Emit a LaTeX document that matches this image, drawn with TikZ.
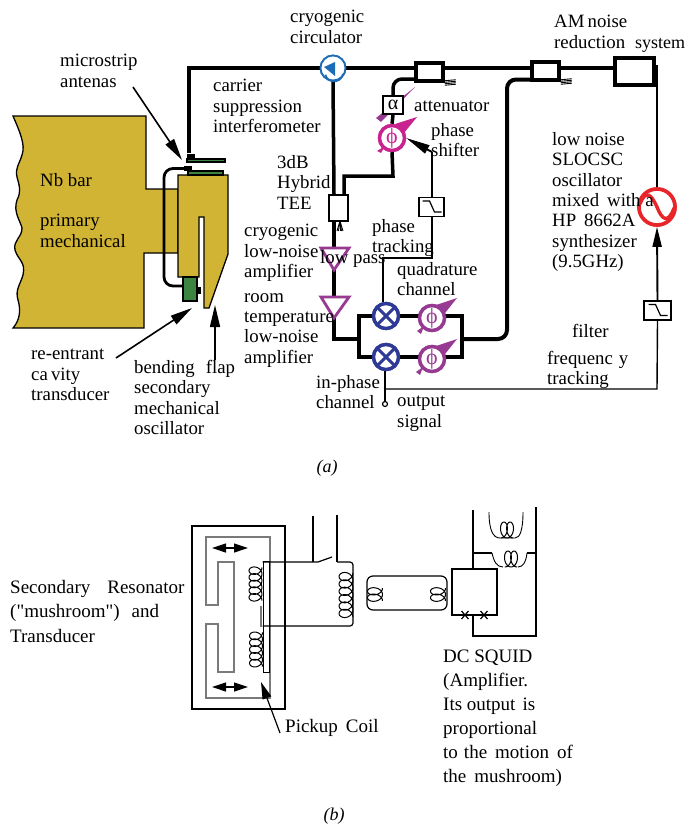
\documentclass[tikz,border=0pt]{standalone}
\usepackage{fontspec}
\setmainfont{Liberation Serif}
\newfontfamily\plainq{Liberation Serif}
\usetikzlibrary{arrows.meta,calc}
\definecolor{gold}{HTML}{D1B433}
\definecolor{grn}{HTML}{3D8440}
\definecolor{mag}{HTML}{C9238F}
\definecolor{purp}{HTML}{973A92}
\definecolor{blu}{HTML}{1E6CB5}
\definecolor{navy}{HTML}{2E3A96}
\definecolor{redc}{HTML}{E8262A}
\definecolor{gry}{HTML}{7A7A7A}
\tikzset{
 x=1pt,y=-1pt,
 lbl/.style={anchor=north west,inner sep=0pt,align=left,font=\fontsize{18.8}{20.4}\selectfont,execute at begin node={\rule{0pt}{13pt}}},
 capt/.style={inner sep=0pt,font=\fontsize{18}{20}\selectfont\itshape},
 thick line/.style={line width=3.5pt,line join=miter},
 thin line/.style={line width=1.9pt},
 blackbox/.style={draw,fill=white,line width=3.5pt,inner sep=0pt},
 goldline/.style={draw=black,fill=gold,line width=1.3pt,line join=miter},
 grnbox/.style={draw=black,fill=grn,line width=1.2pt},
 bigtip/.style={-{Triangle[length=22pt,width=10pt]},line width=1.6pt},
 filterbox/.style={draw,fill=white,line width=1.6pt,inner sep=0pt,minimum width=25pt,minimum height=19pt},
 ampl/.style={draw=purp,fill=white,line width=2.8pt,line join=miter},
 mixer/.style={circle,draw=navy,fill=white,line width=3.4pt,minimum size=25pt,inner sep=0pt},
 phasenode/.style={circle,draw=#1,fill=white,line width=3.4pt,minimum size=25pt,inner sep=0pt,text=#1,font=\fontsize{22}{22}\selectfont},
 attbox/.style={draw,fill=white,line width=2pt,inner sep=0pt,minimum width=20pt,minimum height=18pt,font=\fontsize{20}{20}\selectfont},
 b line/.style={line width=1.2pt},
 g line/.style={draw=gry,line width=1.1pt},
}
% vertical coil: centre x, top y, width, height, turns
\newcommand\vcoil[5]{\draw[line width=1pt,samples=100,domain=0:360*#5,smooth]
  plot ({#1+#3/2*cos(\x)},{#2+#4/(#5+1.6)*(\x/360+.8+.8*sin(\x))});}
% horizontal coil: left x, centre y, width, height, turns
\newcommand\hcoil[5]{\draw[line width=1pt,samples=60,domain=0:360*#5,smooth]
  plot ({#1+#3/(#5+1.6)*(\x/360+.8+.8*sin(\x))},{#2+#4/2*cos(\x)});}
\newcommand\filtersym[1]{\draw[line width=1.2pt] ($(#1)+(-9,-6)$) -- ($(#1)+(-2,-6)$) -- ($(#1)+(3,5)$) -- ($(#1)+(10,5)$);}
\newcommand\fork[1]{\foreach \d in {0,1.5,3,4.5}{\draw[line width=.9pt] ($(#1)+(0,\d-2)$) -- ($(#1)+(11,\d-3)$);}}
\begin{document}
\begin{tikzpicture}
\useasboundingbox (0,0) rectangle (688,827);
% ---- mechanical
\path[goldline] (178,189) -- (146,189) -- (146,116) -- (13,116)
  .. controls (19,130) and (26,145) .. (22,155)
  .. controls (19,165) and (15,168) .. (17,177)
  .. controls (20,188) and (21,192) .. (17,200)
  .. controls (13,212) and (20,220) .. (22,228)
  .. controls (22,238) and (13,240) .. (15,250)
  .. controls (18,260) and (26,262) .. (23,275)
  .. controls (20,285) and (15,290) .. (18,300)
  .. controls (21,310) and (20,320) .. (13,328)
  -- (144,328) -- (144,253) -- (178,253) -- cycle;
\path[goldline] (178,175) -- (228,175) -- (228,254) -- (209,308) -- (204,308) -- (204,217) -- (199,217) -- (199,277) -- (178,277) -- cycle;
\node[grnbox,minimum width=38pt,minimum height=3pt,inner sep=0pt] (ant1) at (206,160.5) {};
\node[grnbox,minimum width=35pt,minimum height=4pt,inner sep=0pt] (ant2) at (205.5,173) {};
\node[grnbox,minimum width=14pt,minimum height=24pt,inner sep=0pt] (cav) at (190,289) {};
\node[fill=black,minimum width=3pt,minimum height=7pt,inner sep=0pt] (cavb) at (199,290) {};
\node[fill=black,minimum width=8pt,minimum height=5pt,inner sep=0pt] (blk1) at (191,156) {};
\node[fill=black,minimum width=8pt,minimum height=5pt,inner sep=0pt] (blk2) at (188,168.5) {};
\draw[line width=2.8pt,rounded corners=9pt] (blk2.west) -- (164,168.5) -- (164,286) -- (cav.west |- 0,286);
% ---- microwave network
\node[circle,draw=blu,fill=white,line width=1.8pt,minimum size=25pt,inner sep=0pt] (circ) at (333,68) {};
\node[blackbox,minimum width=27pt,minimum height=18pt] (cp1) at (429.5,72) {};
\node[blackbox,minimum width=27pt,minimum height=18pt] (cp2) at (545.5,71) {};
\node[blackbox,minimum width=39pt,minimum height=27pt] (am) at (634.5,71.5) {};
\node[attbox] (att) at (393,105) {α};
\node[phasenode=mag] (ph0) at (392,138) {ϕ};
\node[draw,fill=white,line width=1.8pt,inner sep=0pt,minimum width=19pt,minimum height=26pt] (hyb) at (338.5,208) {};
\node[filterbox] (f1) at (431.5,207) {};
\node[filterbox,minimum width=27pt] (f2) at (657.5,310.5) {};
\node[mixer] (m1) at (386,316) {};
\node[mixer] (m2) at (386,357) {};
\node[phasenode=purp] (ph1) at (432,318) {ϕ};
\node[phasenode=purp] (ph2) at (432,359) {ϕ};
\node[circle,draw=redc,fill=white,line width=3.6pt,minimum size=36pt,inner sep=0pt] (osc) at (657,207) {};
\coordinate (tl) at (189,68);
\coordinate (junc) at (359,339);
\coordinate (juncr) at (462,339);
\coordinate (cr1) at (462,316);
\coordinate (cr2) at (462,357);
\begin{scope}[thick line]
 \draw (blk1.north -| 189,0) -- (tl) -- (circ.west);
 \draw (circ.east) -- (cp1.west |- 0,68);
 \draw (cp1.east |- 0,68) -- (cp2.west |- 0,68);
 \draw (cp2.east |- 0,68) -- (am.west |- 0,68);
 \draw[rounded corners=9pt] (cp1.west |- 0,79) -- (393,79) -- (att.north);
 \draw (att.south) -- (ph0.north);
 \draw (ph0.south) -- (393,176) -- (344,176) -- (hyb.north -| 344,0);
 \draw (circ.south) -- (hyb.north -| 334,0);
 \draw (hyb.south -| 334,0) -- (334,339) -- (junc);
 \draw (junc) -- (359,316) -- (m1.west);
 \draw (junc) -- (359,357) -- (m2.west);
 \draw (m1.east) -- (cr1) -- (cr2) -- (m2.east);
 \draw[line width=4pt,rounded corners=9pt] (juncr) -- (507,339) -- (507,79.5) -- (cp2.west |- 0,79.5);
\end{scope}
\draw[line width=2.8pt] (am.east |- 0,66) -- (657,66) -- (osc.north);
\draw[thin line] (m1.north -| 383,0) -- (383,258) -- (432,258) -- (f1.south -| 432,0);
\draw[thin line] (f1.north -| 432,0) -- (432,152);
\draw[-{Triangle[length=24pt,width=9pt]},thin line] (432,152) -- (ph0.east);
\coordinate (outp) at (385,403);
\draw[line width=1.4pt] (m2.south -| 385,0) -- (outp);
\draw[line width=1.4pt] (385,389) -- (657,389) -- (f2.south);
\draw[-{Triangle[length=20pt,width=9pt]},line width=1.9pt] (f2.north) -- (osc.south);
\node[circle,draw,fill=white,line width=1.2pt,minimum size=5pt,inner sep=0pt] (outc) at (385,404) {};
% redraw symbols on top
\node[blackbox,minimum width=27pt,minimum height=18pt] at (cp1) {};
\node[blackbox,minimum width=27pt,minimum height=18pt] at (cp2) {};
\node[blackbox,minimum width=39pt,minimum height=27pt] at (am) {};
\fill[purp] (376,118) -- (415,87) -- (381,122) -- cycle;
\node[attbox] at (att) {α};
\fill[mag] (417,117) -- (395,124) -- (404,133) -- cycle;
\fill[mag] (377,151) -- (385,146) -- (381,153) -- cycle;
\fill[purp] (457,298) -- (436,305) -- (445,313) -- cycle;
\fill[purp] (417,331) -- (424,326) -- (421,334) -- cycle;
\fill[purp] (457,339) -- (436,346) -- (445,354) -- cycle;
\fill[purp] (416,372) -- (423,367) -- (420,375) -- cycle;
\node[phasenode=mag] at (ph0) {ϕ};
\node[phasenode=purp] at (ph1) {ϕ};
\node[phasenode=purp] at (ph2) {ϕ};
\foreach \m in {m1,m2}{
 \node[mixer] at (\m) {};
 \draw[navy,line width=3pt] ($(\m)+(-8,-8)$) -- ($(\m)+(8,8)$);
 \draw[navy,line width=3pt] ($(\m)+(-8,8)$) -- ($(\m)+(8,-8)$);
}
\node[draw,fill=white,line width=1.8pt,inner sep=0pt,minimum width=19pt,minimum height=26pt] at (hyb) {};
\node[filterbox] at (f1) {};
\node[filterbox,minimum width=27pt] at (f2) {};
\filtersym{f1}\filtersym{f2}
\node[circle,draw=blu,fill=white,line width=1.8pt,minimum size=25pt,inner sep=0pt] at (circ) {};
\draw[blu,line width=1.7pt] (343,74) arc (10:165:9 and 9);
\fill[blu] (324,67) -- (335,62) -- (335,76) -- cycle;
\node[circle,draw=redc,fill=white,line width=3.6pt,minimum size=36pt,inner sep=0pt] at (osc) {};
\draw[redc,line width=3.4pt] (640,204) .. controls (646,188) and (652,196) .. (657,207) .. controls (662,220) and (668,224) .. (674,208);
\fork{cp1.south east}
\fork{cp2.south east}
\foreach \d in {-3,-1.5,0,1.5,3}{\draw[line width=.9pt] (340,221) -- (340+\d,231);}
% amplifiers
\draw[ampl] (321,248) -- (349,248) -- (334,270) -- cycle;
\draw[ampl] (321,297) -- (349,297) -- (334,318) -- cycle;
% arrows to the mechanical part
\coordinate (ar1s) at (133,87); \coordinate (ar1e) at (182,160);
\coordinate (ar2s) at (116,358); \coordinate (ar2e) at (192,308);
\coordinate (ar3s) at (215,360); \coordinate (ar3e) at (215,305);
\draw[bigtip] (ar1s) -- (ar1e);
\draw[bigtip] (ar2s) -- (ar2e);
\draw[bigtip] (ar3s) -- (ar3e);
% ---- labels (a)
\node[lbl] (t1) at (290,10) {cryogenic\\circulator};
\node[lbl] (t2) at (60,54) {microstrip\\antenas};
\node[lbl] (t3) at (213,79) {carrier\\suppression\\interferometer};
\node[lbl] (t4) at (40,173) {Nb bar};
\node[lbl] (t5) at (40,214) {primary\\mechanical};
\node[lbl] (t6) at (277,155) {3dB\\Hybrid\\TEE};
\node[lbl] (t7) at (244,224) {cryogenic\\low-noise\\amplifier};
\node[lbl] (t8) at (320,250) {low pass};
\node[lbl] (t9) at (244,293) {room\\temperature\\low-noise\\amplifier};
\node[lbl] (t10) at (31,349) {re-entrant\\ca\,vity\\transducer};
\node[lbl] (t11) at (134,360) {bending\hspace{11pt}flap\\secondary\\mechanical\\oscillator};
\node[lbl] (t12) at (414,98) {attenuator};
\node[lbl] (t13) at (431,123) {phase\\shifter};
\node[lbl] (t14) at (372,219) {phase\\tracking};
\node[lbl] (t15) at (397,262) {quadrature\\channel};
\node[lbl] (t16) at (316,375) {in-phase\\channel};
\node[lbl] (t17) at (397,396) {output\\signal};
\node[lbl] (t18) at (572,324) {filter};
\node[lbl] (t19) at (547,351) {frequenc\hspace{6pt}y\\tracking};
\node[lbl] (t20) at (552,132) {low noise\\SLOCSC\\oscillator\\mixed\hspace{8pt}with a\\HP\hspace{8pt}8662A\\synthesizer\\(9.5GHz)};
\node[lbl] (t21) at (554,15) {AM\,noise\\reduction\hspace{10pt}{\fontsize{18}{20}\selectfont system}};
\node[capt] (capa) at (327,468) {(a)};
% ---- part (b)
\node[draw,line width=1.2pt,minimum width=93pt,minimum height=183pt,inner sep=0pt] (outer) at (238.5,617.5) {};
\draw[g line,line join=miter] (206,605) -- (206,537) -- (270,537) -- (270,698) -- (206,698) -- (206,624) -- (218,624) -- (218,672) -- (234,672) -- (234,562) -- (218,562) -- (218,605) -- cycle;
\draw[white,line width=1.6pt] (206,606) -- (206,623);
\node[draw,fill=white,line width=.9pt,minimum width=6pt,minimum height=111pt,inner sep=0pt] (bar) at (266,616.5) {};
\vcoil{255.5}{562}{13}{44}{5}
\vcoil{256}{627}{13}{45}{5}
\draw[g line] (261,606) -- (261,627);
\coordinate (la) at (313,516); \coordinate (lb) at (337,515);
\coordinate (sw1) at (313,562); \coordinate (sw2) at (318,562); \coordinate (sw3) at (332,557); \coordinate (sw4) at (337,562);
\draw[b line] (bar.north west |- 0,562) -- (sw1) -- (sw2) -- (sw3);
\draw[b line] (la) -- (sw1);
\draw[b line] (lb) -- (sw4);
\draw[b line,rounded corners=3pt] (sw4) -- (353,562) -- (353,626) -- (bar.west |- 0,626);
\vcoil{346}{567}{14}{56}{6}
\draw[b line,rounded corners=6pt] (375,610) -- (367,610) -- (367,576) -- (447,576) -- (447,610) -- (375,610);
\vcoil{375}{583}{15}{23}{2}
\vcoil{438}{583}{15}{23}{2}
\node[draw,fill=white,line width=1.2pt,minimum width=45pt,minimum height=46pt,inner sep=0pt] (sq) at (474.5,592) {};
\coordinate (sa) at (473,510); \coordinate (sb) at (536,507); \coordinate (sc) at (473,553); \coordinate (sd) at (536,553);
\draw[b line] (sa) -- (sq.north -| 473,0);
\draw[b line] (sb) -- (536,636) -- (473,636) -- (sq.south -| 473,0);
\draw[b line] (sc) -- (492,553);
\draw[b line] (sd) -- (527,553);
\draw[line width=.9pt] (492,553) .. controls (494,562) and (497,567) .. (503,567);
\draw[line width=.9pt] (527,553) .. controls (526,562) and (523,567) .. (518,567);
\hcoil{500}{559}{22}{16}{2}
\draw[line width=.9pt] (489,512) .. controls (489,530) and (493,538) .. (500,538) -- (515,538) .. controls (520,538) and (523,530) .. (523,512);
\hcoil{496}{530}{22}{16}{2}
\foreach \p in {465,484}{
 \draw[b line] (\p-3.5,611) -- (\p+3.5,619);
 \draw[b line] (\p+3.5,611) -- (\p-3.5,619);
}
% double arrows
\coordinate (da1) at (212,548); \coordinate (da2) at (248,548);
\coordinate (db1) at (212,687); \coordinate (db2) at (248,687);
\draw[{Triangle[length=14pt,width=9pt]}-{Triangle[length=14pt,width=9pt]},line width=1.2pt] (da1) -- (da2);
\draw[{Triangle[length=14pt,width=9pt]}-{Triangle[length=14pt,width=9pt]},line width=1.2pt] (db1) -- (db2);
\coordinate (pk1) at (280,733); \coordinate (pk2) at (261,682);
\draw[-{Triangle[length=17pt,width=9pt]},line width=1.2pt] (pk1) -- (pk2);
\node[lbl,font=\fontsize{19}{24.5}\selectfont] (u1) at (10,580) {Secondary\hspace{17pt}Resonator\\({\plainq"}mushroom{\plainq"})\hspace{12pt}and\\Transducer};
\node[lbl,font=\fontsize{19}{24}\selectfont] (u2) at (285,719) {Pickup\hspace{8pt}Coil};
\node[lbl,font=\fontsize{19}{24}\selectfont] (u3) at (443,650) {DC SQUID\\(Amplifier.\\Its output\hspace{7pt}is\\proportional\\to\hspace{6pt}the\hspace{8pt}motion\hspace{8pt}of\\the\hspace{8pt}mushroom)};
\node[capt] (capb) at (334,816) {(b)};
\end{tikzpicture}
\end{document}
